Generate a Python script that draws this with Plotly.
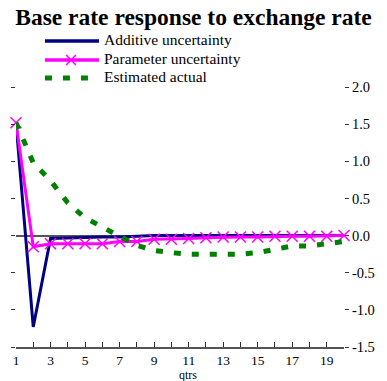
import plotly.graph_objects as go

# Quarters after the shock
quarters = list(range(1, 21))

# Base-rate response paths (percentage points)
additive = [1.52, -1.23, -0.04, -0.03, -0.03, -0.02, -0.02, -0.01, 0.0, 0.0,
            0.0, 0.0, 0.0, 0.0, 0.0, 0.0, 0.0, 0.0, 0.0, 0.0]
parameter = [1.52, -0.15, -0.11, -0.11, -0.11, -0.11, -0.08, -0.08, -0.05, -0.05,
             -0.04, -0.03, -0.02, -0.02, -0.02, -0.01, -0.01, -0.01, -0.01, 0.0]
estimated = [1.52, 0.98, 0.74, 0.44, 0.24, 0.11, -0.01, -0.13, -0.20, -0.23,
             -0.25, -0.25, -0.25, -0.25, -0.23, -0.19, -0.14, -0.14, -0.11, -0.08]

series_names = ["Additive uncertainty", "Parameter uncertainty", "Estimated actual"]
series_colors = ["#000080", "#FF00FF", "#008000"]

x_tickvals = quarters
x_ticktext = [str(q) if q % 2 == 1 else "" for q in quarters]
y_tickvals = [-1.5, -1.0, -0.5, 0.0, 0.5, 1.0, 1.5, 2.0]
y_ticktext = ["-1.5", "-1.0", "-0.5", "0.0", "0.5", "1.0", "1.5", "2.0"]

W, H = 387, 381
ML, MR, MT, MB = 13, 34, 87, 34
PW, PH = W - ML - MR, H - MT - MB
FONT = "Liberation Serif"
GREEN_DASH = "7px,11px"


def px(xp):
    return (xp - ML) / PW


def py(yp):
    return (H - MB - yp) / PH


fig = go.Figure()
fig.add_trace(go.Scatter(x=quarters, y=additive, mode="lines", name=series_names[0],
                         line=dict(color=series_colors[0], width=3), cliponaxis=False))
fig.add_trace(go.Scatter(x=quarters, y=parameter, mode="lines+markers", name=series_names[1],
                         line=dict(color=series_colors[1], width=3),
                         marker=dict(symbol="x-thin", size=11, color=series_colors[1],
                                     line=dict(color=series_colors[1], width=1.5)),
                         cliponaxis=False))
fig.add_trace(go.Scatter(x=quarters, y=estimated, mode="lines", name=series_names[2],
                         line=dict(color=series_colors[2], width=5, dash=GREEN_DASH),
                         cliponaxis=False))

# Hand-drawn key in the top-left corner
shapes = []
annotations = []
rows = [41, 60, 78]
for i, (name, color) in enumerate(zip(series_names, series_colors)):
    yrow = rows[i]
    line = dict(color=color, width=5 if i == 2 else 3.5)
    if i == 2:
        line["dash"] = GREEN_DASH
    shapes.append(dict(type="line", xref="paper", yref="paper",
                       x0=px(43), x1=px(99), y0=py(yrow), y1=py(yrow), line=line))
    if i == 1:
        for d in (1, -1):
            shapes.append(dict(type="line", xref="paper", yref="paper",
                               x0=px(70 - 5), x1=px(70 + 5),
                               y0=py(yrow - 5 * d), y1=py(yrow + 5 * d),
                               line=dict(color=color, width=1.5)))
    annotations.append(dict(text=name, xref="paper", yref="paper",
                            x=px(102), y=py(yrow - 1.5), xanchor="left", yanchor="middle",
                            showarrow=False, font=dict(family=FONT, size=15.5, color="black")))

annotations.append(dict(text="qtrs", xref="paper", yref="paper", x=px(191), y=py(374.5),
                        xanchor="center", yanchor="middle", showarrow=False,
                        font=dict(family=FONT, size=12, color="black")))

fig.update_layout(
    width=W, height=H,
    margin=dict(l=ML, r=MR, t=MT, b=MB),
    paper_bgcolor="white", plot_bgcolor="white",
    showlegend=False,
    title=dict(text="<b>Base rate response to exchange rate</b>",
               x=0.5, xanchor="center", y=1 - 17 / H, yanchor="middle",
               font=dict(family=FONT, size=23.5, color="black")),
    font=dict(family=FONT, size=14, color="black"),
    shapes=shapes,
    annotations=annotations,
    xaxis=dict(range=[1, 20], tickvals=x_tickvals, ticktext=x_ticktext,
               ticks="inside", ticklen=5, tickwidth=1, tickcolor="#333",
               showline=True, linecolor="#555", linewidth=2,
               showgrid=False, zeroline=False, ticklabelstandoff=0,
               tickfont=dict(family=FONT, size=13.5, color="black")),
    yaxis=dict(range=[-1.5, 2.0], side="right", tickvals=y_tickvals, ticktext=y_ticktext,
               ticks="outside", ticklen=4, tickwidth=1, tickcolor="#333",
               showline=False, showgrid=False,
               zeroline=True, zerolinecolor="#555", zerolinewidth=2,
               tickfont=dict(family=FONT, size=14.5, color="black")),
    yaxis2=dict(range=[-1.5, 2.0], overlaying="y", side="left", tickvals=y_tickvals,
                ticks="outside", ticklen=4, tickwidth=1, tickcolor="#333",
                showticklabels=False, showline=False, showgrid=False, zeroline=False),
)
# Invisible trace so the left-hand tick axis is drawn
fig.add_trace(go.Scatter(x=[None], y=[None], yaxis="y2", showlegend=False, hoverinfo="skip"))

fig.write_html("out.html")
